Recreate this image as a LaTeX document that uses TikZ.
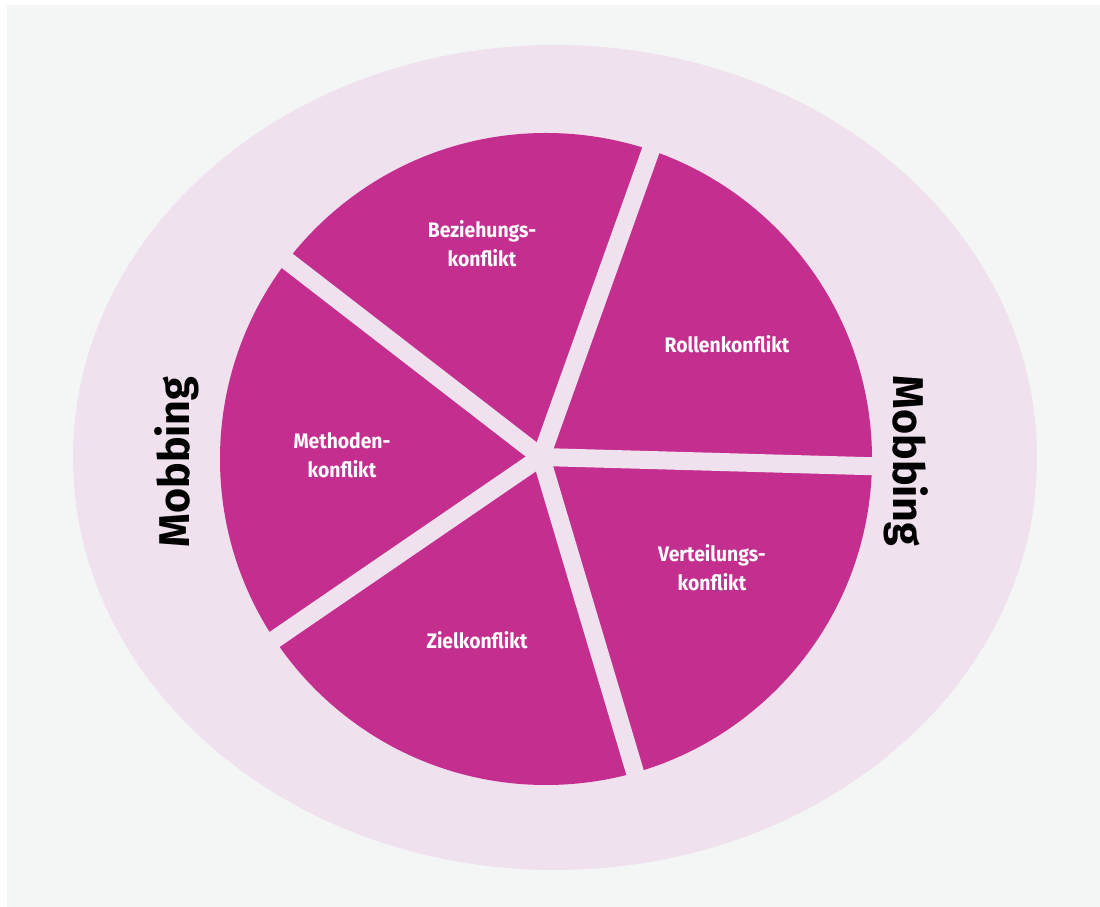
\documentclass[tikz,border=0pt]{standalone}
\usepackage{fontspec}
\setmainfont{Fira Sans}
\newfontfamily\slicefont[FakeStretch=0.92]{Fira Sans}
\definecolor{bgc}{HTML}{F4F6F5}
\definecolor{ringc}{HTML}{EFE1EE}
\definecolor{piec}{HTML}{C42F8F}
\begin{document}
\begin{tikzpicture}[x=1pt,y=1pt,
  seglabel/.style={text=white, font=\slicefont\fontsize{21}{29}\selectfont\bfseries, align=center, inner sep=0pt},
  ringlabel/.style={text=black, font=\fontsize{43}{50}\selectfont\bfseries, inner sep=0pt},
  gap/.style={draw=ringc, line width=18}]
\useasboundingbox (0,0) rectangle (1100,907);
% page and backdrop
\fill[white] (0,0) rectangle (1100,907);
\fill[bgc] (7,0) rectangle (1100,902);
% outer ring
\fill[ringc] (555,449.5) ellipse [x radius=482, y radius=412.5];
% pie disc, split into five equal slices by radial gaps
\fill[piec] (546,448) circle [radius=326];
\coordinate (hub) at (541,450);
\foreach \a in {70.3,142.3,214.4,286.6,358.4}
  \draw[gap] (hub) -- ++(\a:360);
% slice labels
\node[seglabel] (bez) at (482,663) {Beziehungs-\\konflikt};
\node[seglabel] (rol) at (727,563) {Rollenkonflikt};
\node[seglabel] (met) at (342,452) {Methoden-\\konflikt};
\node[seglabel] (ver) at (712,339) {Verteilungs-\\konflikt};
\node[seglabel] (zie) at (477,267) {Zielkonflikt};
% ring labels
\node[ringlabel, rotate=90] (mobl) at (177,445) {Mobbing};
\node[ringlabel, rotate=-90] (mobr) at (906,446) {Mobbing};
\end{tikzpicture}
\end{document}
